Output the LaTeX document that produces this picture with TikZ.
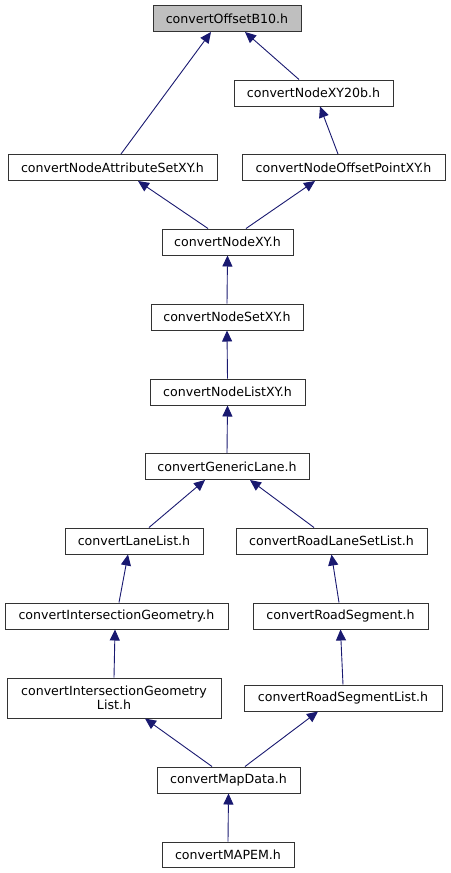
\documentclass[tikz,border=0pt]{standalone}
\usepackage{fontspec}
\setmainfont{DejaVu Sans}
\definecolor{dxEdge}{HTML}{191970}
\definecolor{dxRoot}{HTML}{BFBFBF}
\definecolor{dxLine}{HTML}{333333}
\usetikzlibrary{arrows.meta}

\begin{document}
\begin{tikzpicture}[x=1pt, y=-1pt,
  font=\fontsize{12.6}{14.5}\selectfont,
  filebox/.style={draw=dxLine, line width=1pt, fill=white, inner sep=0pt, minimum height=26pt, align=center},
  incl/.style={dxEdge, line width=0.9pt, {Triangle[length=11pt,width=10pt]}-}]
\useasboundingbox (0,0) rectangle (450,873);
% header files, top to bottom
\node[filebox, fill=dxRoot, minimum width=148pt] (offset) at (227,18.5) {convertOffsetB10.h};
\node[filebox, minimum width=159pt] (xy20b) at (313.5,93) {convertNodeXY20b.h};
\node[filebox, minimum width=209pt] (attr) at (112.5,167.5) {convertNodeAttributeSetXY.h};
\node[filebox, minimum width=203pt] (offpt) at (343.5,167.5) {convertNodeOffsetPointXY.h};
\node[filebox, minimum width=131pt] (nodexy) at (227.5,242) {convertNodeXY.h};
\node[filebox, minimum width=152pt] (nodeset) at (227,317) {convertNodeSetXY.h};
\node[filebox, minimum width=155pt] (nodelist) at (227.5,392) {convertNodeListXY.h};
\node[filebox, minimum width=164pt] (generic) at (227,466.5) {convertGenericLane.h};
\node[filebox, minimum width=138pt] (lanelist) at (134,541) {convertLaneList.h};
\node[filebox, minimum width=191pt] (roadlane) at (331.5,541) {convertRoadLaneSetList.h};
\node[filebox, minimum width=223pt] (intgeom) at (116.5,616) {convertIntersectionGeometry.h};
\node[filebox, minimum width=175pt] (roadseg) at (340.5,616) {convertRoadSegment.h};
\node[filebox, minimum width=214pt, minimum height=40pt] (iglist) at (114,698) {convertIntersectionGeometry\\List.h};
\node[filebox, minimum width=198pt] (rslist) at (343,698) {convertRoadSegmentList.h};
\node[filebox, minimum width=143pt] (mapdata) at (228.5,780) {convertMapData.h};
\node[filebox, minimum width=132pt, minimum height=25pt] (mapem) at (228,854.5) {convertMAPEM.h};
% include edges
\draw[incl] ([xshift=-16]offset.south) -- ([xshift=8.5]attr.north);
\draw[incl] ([xshift=18]offset.south) -- ([xshift=-14.5]xy20b.north);
\draw[incl] ([xshift=6.5]xy20b.south) -- ([xshift=-5.5]offpt.north);
\draw[incl] ([xshift=25.5]attr.south) -- ([xshift=-19.5]nodexy.north);
\draw[incl] ([xshift=-28.5]offpt.south) -- ([xshift=18.5]nodexy.north);
\draw[incl] (nodexy.south) -- (nodeset.north);
\draw[incl] (nodeset.south) -- (nodelist.north);
\draw[incl] (nodelist.south) -- (generic.north);
\draw[incl] ([xshift=-22]generic.south) -- ([xshift=15]lanelist.north);
\draw[incl] ([xshift=23]generic.south) -- ([xshift=-17.5]roadlane.north);
\draw[incl] ([xshift=-6]lanelist.south) -- ([xshift=2.5]intgeom.north);
\draw[incl] (roadlane.south) -- ([xshift=-1.5]roadseg.north);
\draw[incl] ([xshift=-1.5]intgeom.south) -- (iglist.north);
\draw[incl] (roadseg.south) -- (rslist.north);
\draw[incl] ([xshift=31]iglist.south) -- ([xshift=-16.5]mapdata.north);
\draw[incl] ([xshift=-25]rslist.south) -- ([xshift=16.5]mapdata.north);
\draw[incl] (mapdata.south) -- (mapem.north);
\end{tikzpicture}
\end{document}
